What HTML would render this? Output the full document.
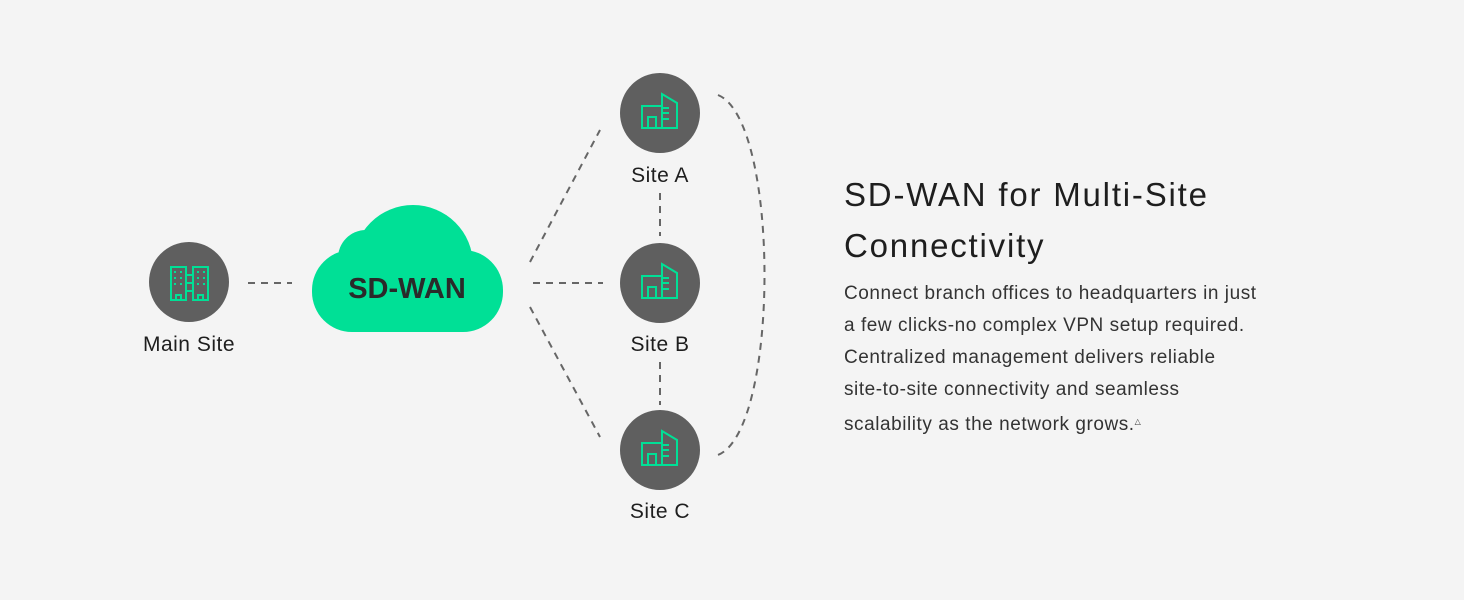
<!DOCTYPE html>
<html><head><meta charset="utf-8"><style>
html,body{margin:0;padding:0;background:#f4f4f4;width:1464px;height:600px;overflow:hidden;font-family:"Liberation Sans",sans-serif;}
.t{position:absolute;left:844px;color:#1e1e1e;white-space:nowrap;}
</style></head><body>
<svg width="1464" height="600" style="position:absolute;left:0;top:0">
<g stroke="#666" stroke-width="2" stroke-dasharray="7,6" fill="none">
<line x1="248" y1="283" x2="292" y2="283"/>
<line x1="530" y1="262" x2="600" y2="130"/>
<line x1="533" y1="283" x2="603" y2="283"/>
<line x1="530" y1="307" x2="600" y2="437"/>
<line x1="660" y1="193" x2="660" y2="236"/>
<line x1="660" y1="362" x2="660" y2="405"/>
<path d="M718 95 C780 120 780 430 718 455"/>
</g>
<g fill="#00e096">
<circle cx="413" cy="265" r="60"/>
<circle cx="366" cy="258" r="28"/>
<rect x="312" y="250" width="191" height="82" rx="40"/>
</g>
<text x="407" y="298" text-anchor="middle" font-family="Liberation Sans,sans-serif" font-weight="bold" font-size="29" fill="#2a2a2a">SD-WAN</text>
<g fill="#5f5f5f"><circle cx="189" cy="282" r="40"/><circle cx="660" cy="113" r="40"/><circle cx="660" cy="283" r="40"/><circle cx="660" cy="450" r="40"/></g>
<g stroke="#00e096" stroke-width="2" fill="none">
<rect x="171" y="267" width="15" height="33"/><rect x="193" y="267" width="15" height="33"/>
<line x1="186" y1="275" x2="193" y2="275"/><line x1="186" y1="283" x2="193" y2="283"/><line x1="186" y1="291" x2="193" y2="291"/>
<path d="M176 300v-5h5v5M198 300v-5h5v5"/>
</g>
<g fill="#00e096"><rect x="174" y="271" width="2" height="2"/><rect x="180" y="271" width="2" height="2"/><rect x="174" y="277" width="2" height="2"/><rect x="180" y="277" width="2" height="2"/><rect x="174" y="283" width="2" height="2"/><rect x="180" y="283" width="2" height="2"/><rect x="197" y="271" width="2" height="2"/><rect x="203" y="271" width="2" height="2"/><rect x="197" y="277" width="2" height="2"/><rect x="203" y="277" width="2" height="2"/><rect x="197" y="283" width="2" height="2"/><rect x="203" y="283" width="2" height="2"/></g>
<defs><g id="b" stroke="#00e096" stroke-width="2" fill="none"><path d="M662 -7 L642 -7 L642 15 L677 15 L677 -10 L662 -19 Z"/><line x1="662" y1="-19" x2="662" y2="15"/><path d="M648 15 V4 H656 V15"/><line x1="662" y1="-5" x2="669" y2="-5"/><line x1="662" y1="0" x2="669" y2="0"/><line x1="662" y1="6" x2="669" y2="6"/></g></defs>
<use href="#b" y="113"/><use href="#b" y="283"/><use href="#b" y="450"/>
<g font-family="Liberation Sans,sans-serif" font-size="21" letter-spacing="0.5" fill="#1e1e1e" text-anchor="middle">
<text x="189" y="351">Main Site</text><text x="660" y="182">Site A</text><text x="660" y="351">Site B</text><text x="660" y="518">Site C</text>
</g>
</svg>
<div class="t" style="top:169px;font-size:33px;line-height:51px;letter-spacing:1.8px;">SD-WAN for Multi-Site<br>Connectivity</div>
<div class="t" style="top:278px;font-size:19px;line-height:32px;letter-spacing:0.55px;color:#333;">Connect branch offices to headquarters in just<br>a few clicks-no complex VPN setup required.<br>Centralized management delivers reliable<br>site-to-site connectivity and seamless<br>scalability as the network grows.<span style="font-size:8px;vertical-align:6px">△</span></div>
</body></html>
